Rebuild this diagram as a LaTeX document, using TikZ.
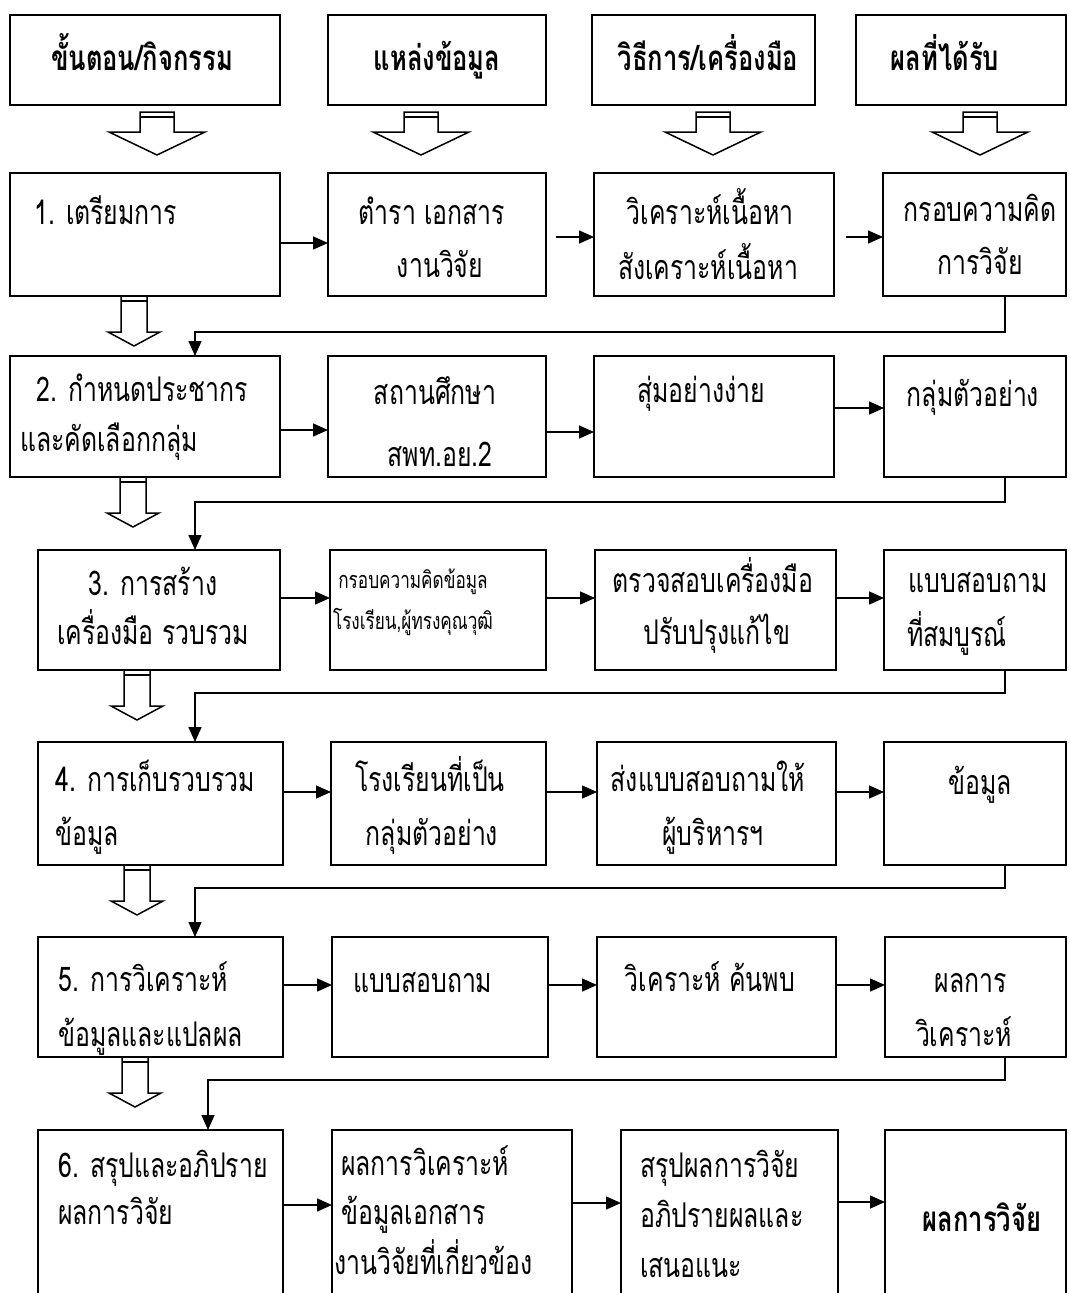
\documentclass[tikz,border=0pt]{standalone}
\usepackage{fontspec}
\setmainfont[Script=Thai,FakeStretch=0.73]{Loma}
\usetikzlibrary{arrows.meta,calc,fit}
\begin{document}
\begin{tikzpicture}[x=1pt,y=-1pt,
  box/.style={draw,line width=1.5pt,inner sep=0pt,outer sep=0pt},
  txt/.style={inner sep=0pt,yshift=-7pt,font=\fontsize{34}{36}\selectfont},
  sml/.style={inner sep=0pt,yshift=-6pt,font=\fontsize{23.5}{26}\selectfont},
  hd/.style={inner sep=0pt,yshift=-6pt,font=\fontsize{35}{38}\selectfont\bfseries},
  flow/.style={line width=1.5pt,-{Triangle[length=15pt,width=13pt]}},
  hollow/.style={line width=1.5pt,fill=white,line join=miter},
  bigarr/.pic={\draw[hollow] (-17,0) -- (17,0) -- (17,20) -- (48,20) -- (0,43) -- (-48,20) -- (-17,20) -- cycle;
               \draw[line width=1.2pt] (-17,5) -- (17,5);},
  rowarr/.pic={\draw[hollow] (-13,0) -- (13,0) -- (13,36) -- (26,36) -- (0,50) -- (-26,36) -- (-13,36) -- cycle;
               \draw[line width=1.2pt] (-13,5) -- (13,5);}
]
\useasboundingbox (0,0) rectangle (1070,1293);
\clip (0,0) rectangle (1070,1293);
\fill[white] (0,0) rectangle (1070,1293);

% header
\node[box,fit={(10,15)(280,105)}] (h1) {};
\node[box,fit={(328,15)(546,105)}] (h2) {};
\node[box,fit={(592,15)(815,105)}] (h3) {};
\node[box,fit={(856,15)(1066,105)}] (h4) {};
\node[hd,anchor=mid] (h1t) at (142,62) {ขั้นตอน/กิจกรรม};
\node[hd,anchor=mid] (h2t) at (437,62) {แหล่งข้อมูล};
\node[hd,anchor=mid] (h3t) at (708,62) {วิธีการ/เครื่องมือ};
\node[hd,anchor=mid] (h4t) at (945,62) {ผลที่ได้รับ};
\pic at (157,112) {bigarr};
\pic at (421,112) {bigarr};
\pic at (713,112) {bigarr};
\pic at (980,112) {bigarr};

% row 1
\node[box,fit={(10,173)(280,296)}] (r1c1) {};
\node[box,fit={(328,173)(546,296)}] (r1c2) {};
\node[box,fit={(594,173)(834,296)}] (r1c3) {};
\node[box,fit={(883,173)(1066,296)}] (r1c4) {};
\node[txt,anchor=mid west] (t11a) at (34,215) {1. เตรียมการ};
\node[txt,anchor=mid] (t12a) at (432,215) {ตำรา เอกสาร};
\node[txt,anchor=mid] (t12b) at (440,268) {งานวิจัย};
\node[txt,anchor=mid] (t13a) at (710,215) {วิเคราะห์เนื้อหา};
\node[txt,anchor=mid] (t13b) at (708,270) {สังเคราะห์เนื้อหา};
\node[txt,anchor=mid] (t14a) at (980,212) {กรอบความคิด};
\node[txt,anchor=mid] (t14b) at (980,265) {การวิจัย};
\draw[flow] (r1c1.east |- 0,243) -- (r1c2.west |- 0,243);
\draw[flow,shorten <=10pt] (r1c2.east |- 0,237) -- (r1c3.west |- 0,237);
\draw[flow,shorten <=12pt] (r1c3.east |- 0,237) -- (r1c4.west |- 0,237);
\pic at (134,296) {rowarr};

% row 2
\node[box,fit={(10,356)(280,477)}] (r2c1) {};
\node[box,fit={(328,356)(546,477)}] (r2c2) {};
\node[box,fit={(594,356)(834,477)}] (r2c3) {};
\node[box,fit={(884,356)(1066,477)}] (r2c4) {};
\draw[flow] (r1c4.south -| 1005,0) -- (1005,332) -| (r2c1.north -| 195,0);
\node[txt,anchor=mid west] (t21a) at (36,392) {2. กำหนดประชากร};
\node[txt,anchor=mid west] (t21b) at (20,442) {และคัดเลือกกลุ่ม};
\node[txt,anchor=mid] (t22a) at (435,395) {สถานศึกษา};
\node[txt,anchor=mid] (t22b) at (440,457) {สพท.อย.2};
\node[txt,anchor=mid] (t23a) at (701,393) {สุ่มอย่างง่าย};
\node[txt,anchor=mid] (t24a) at (973,397) {กลุ่มตัวอย่าง};
\draw[flow] (r2c1.east |- 0,430) -- (r2c2.west |- 0,430);
\draw[flow] (r2c2.east |- 0,432) -- (r2c3.west |- 0,432);
\draw[flow] (r2c3.east |- 0,408) -- (r2c4.west |- 0,408);
\pic at (133,477) {rowarr};

% row 3
\node[box,fit={(38,550)(280,670)}] (r3c1) {};
\node[box,fit={(330,550)(546,670)}] (r3c2) {};
\node[box,fit={(595,550)(836,670)}] (r3c3) {};
\node[box,fit={(884,550)(1066,670)}] (r3c4) {};
\draw[flow] (r2c4.south -| 1005,0) -- (1005,502) -| (r3c1.north -| 195,0);
\node[txt,anchor=mid] (t31a) at (153,586) {3. การสร้าง};
\node[txt,anchor=mid] (t31b) at (153,635) {เครื่องมือ รวบรวม};
\node[sml,anchor=mid] (t32a) at (413,580) {กรอบความคิดข้อมูล};
\node[sml,anchor=mid] (t32b) at (413,621) {โรงเรียน,ผู้ทรงคุณวุฒิ};
\node[txt,anchor=mid] (t33a) at (713,583) {ตรวจสอบเครื่องมือ};
\node[txt,anchor=mid] (t33b) at (717,635) {ปรับปรุงแก้ไข};
\node[txt,anchor=mid] (t34a) at (978,583) {แบบสอบถาม};
\node[txt,anchor=mid] (t34b) at (957,637) {ที่สมบูรณ์};
\draw[flow] (r3c1.east |- 0,598) -- (r3c2.west |- 0,598);
\draw[flow] (r3c2.east |- 0,598) -- (r3c3.west |- 0,598);
\draw[flow] (r3c3.east |- 0,598) -- (r3c4.west |- 0,598);
\pic at (137,670) {rowarr};

% row 4
\node[box,fit={(38,742)(283,865)}] (r4c1) {};
\node[box,fit={(331,742)(546,865)}] (r4c2) {};
\node[box,fit={(597,742)(836,865)}] (r4c3) {};
\node[box,fit={(884,742)(1066,865)}] (r4c4) {};
\draw[flow] (r3c4.south -| 1005,0) -- (1005,693) -| (r4c1.north -| 195,0);
\node[txt,anchor=mid west] (t41a) at (55,782) {4. การเก็บรวบรวม};
\node[txt,anchor=mid west] (t41b) at (55,836) {ข้อมูล};
\node[txt,anchor=mid] (t42a) at (430,782) {โรงเรียนที่เป็น};
\node[txt,anchor=mid] (t42b) at (432,836) {กลุ่มตัวอย่าง};
\node[txt,anchor=mid] (t43a) at (708,782) {ส่งแบบสอบถามให้};
\node[txt,anchor=mid] (t43b) at (713,836) {ผู้บริหารฯ};
\node[txt,anchor=mid] (t44a) at (980,785) {ข้อมูล};
\draw[flow] (r4c1.east |- 0,792) -- (r4c2.west |- 0,792);
\draw[flow] (r4c2.east |- 0,792) -- (r4c3.west |- 0,792);
\draw[flow] (r4c3.east |- 0,792) -- (r4c4.west |- 0,792);
\pic at (137,865) {rowarr};

% row 5
\node[box,fit={(38,937)(283,1057)}] (r5c1) {};
\node[box,fit={(332,937)(548,1057)}] (r5c2) {};
\node[box,fit={(597,937)(836,1057)}] (r5c3) {};
\node[box,fit={(885,937)(1066,1057)}] (r5c4) {};
\draw[flow] (r4c4.south -| 1005,0) -- (1005,888) -| (r5c1.north -| 195,0);
\node[txt,anchor=mid west] (t51a) at (58,982) {5. การวิเคราะห์};
\node[txt,anchor=mid west] (t51b) at (58,1037) {ข้อมูลและแปลผล};
\node[txt,anchor=mid] (t52a) at (423,983) {แบบสอบถาม};
\node[txt,anchor=mid] (t53a) at (710,982) {วิเคราะห์ ค้นพบ};
\node[txt,anchor=mid] (t54a) at (971,983) {ผลการ};
\node[txt,anchor=mid] (t54b) at (964,1037) {วิเคราะห์};
\draw[flow] (r5c1.east |- 0,985) -- (r5c2.west |- 0,985);
\draw[flow] (r5c2.east |- 0,985) -- (r5c3.west |- 0,985);
\draw[flow] (r5c3.east |- 0,985) -- (r5c4.west |- 0,985);
\pic at (135,1057) {rowarr};

% row 6
\node[box,fit={(38,1130)(283,1330)}] (r6c1) {};
\node[box,fit={(332,1130)(572,1330)}] (r6c2) {};
\node[box,fit={(621,1130)(838,1330)}] (r6c3) {};
\node[box,fit={(885,1130)(1066,1330)}] (r6c4) {};
\draw[flow] (r5c4.south -| 1005,0) -- (1005,1080) -| (r6c1.north -| 208,0);
\node[txt,anchor=mid west] (t61a) at (58,1168) {6. สรุปและอภิปราย};
\node[txt,anchor=mid west] (t61b) at (58,1215) {ผลการวิจัย};
\node[txt,anchor=mid west] (t62a) at (341,1166) {ผลการวิเคราะห์};
\node[txt,anchor=mid west] (t62b) at (341,1215) {ข้อมูลเอกสาร};
\node[txt,anchor=mid west] (t62c) at (334,1265) {งานวิจัยที่เกี่ยวข้อง};
\node[txt,anchor=mid west] (t63a) at (640,1168) {สรุปผลการวิจัย};
\node[txt,anchor=mid west] (t63b) at (640,1218) {อภิปรายผลและ};
\node[txt,anchor=mid west] (t63c) at (640,1268) {เสนอแนะ};
\node[hd,anchor=mid] (t64a) at (982,1223) {ผลการวิจัย};
\draw[flow] (r6c1.east |- 0,1205) -- (r6c2.west |- 0,1205);
\draw[flow] (r6c2.east |- 0,1203) -- (r6c3.west |- 0,1203);
\draw[flow] (r6c3.east |- 0,1202) -- (r6c4.west |- 0,1202);
\end{tikzpicture}
\end{document}
